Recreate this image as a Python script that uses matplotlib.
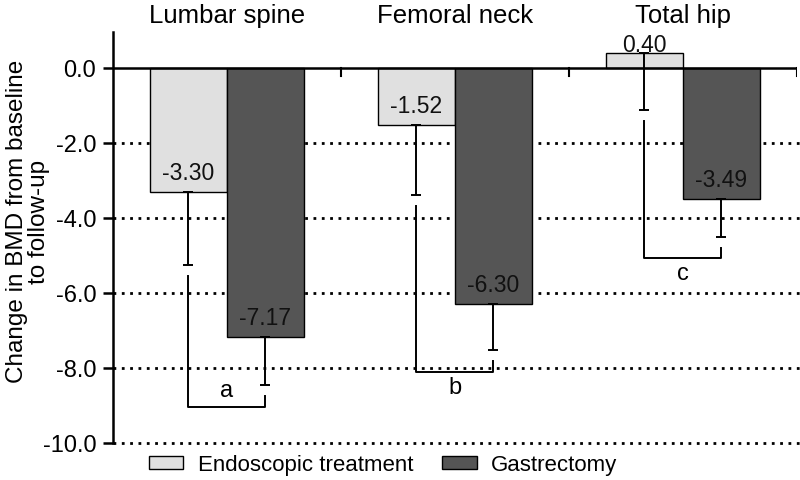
import matplotlib.pyplot as plt
import numpy as np

plt.rcParams['font.family'] = ['Liberation Sans', 'DejaVu Sans']
plt.rcParams['axes.unicode_minus'] = False

# data
sites = ['Lumbar spine', 'Femoral neck', 'Total hip']
endoscopic = [-3.30, -1.52, 0.40]
gastrectomy = [-7.17, -6.30, -3.49]
endoscopic_err = [1.95, 1.87, 1.52]
gastrectomy_err = [1.28, 1.22, 1.02]
sig_labels = ['a', 'b', 'c']
sig_levels = [-9.04, -8.10, -5.07]
series_names = ['Endoscopic treatment', 'Gastrectomy']

x = np.arange(len(sites))
w = 0.337

fig = plt.figure(figsize=(8, 4.8), dpi=100)
ax = fig.add_axes([0.141, 0.077, 0.855, 0.856])

ax.bar(x - w / 2, endoscopic, w, color='#e0e0e0', edgecolor='black', linewidth=1.0,
       label=series_names[0], zorder=3)
ax.bar(x + w / 2, gastrectomy, w, color='#555555', edgecolor='black', linewidth=1.0,
       label=series_names[1], zorder=3)

# one-sided error bars (downwards)
ax.errorbar(x - w / 2, endoscopic, yerr=[endoscopic_err, np.zeros(3)], fmt='none',
            ecolor='black', elinewidth=1.4, capsize=3.6, capthick=1.4, zorder=4)
ax.errorbar(x + w / 2, gastrectomy, yerr=[gastrectomy_err, np.zeros(3)], fmt='none',
            ecolor='black', elinewidth=1.4, capsize=3.6, capthick=1.4, zorder=4)

# value labels
for i in range(len(sites)):
    for xv, v in [(x[i] - w / 2, endoscopic[i]), (x[i] + w / 2, gastrectomy[i])]:
        yv = v + 0.2 if v > 0 else v + 0.5
        ax.text(xv, yv, f'{v:.2f}', ha='center', va='center', fontsize=16.5,
                color='#111111', zorder=5)

# significance brackets
gap = 0.3
for i in range(len(sites)):
    x1, x2 = x[i] - w / 2, x[i] + w / 2
    y1 = endoscopic[i] - endoscopic_err[i] - gap
    y2 = gastrectomy[i] - gastrectomy_err[i] - gap
    lvl = sig_levels[i]
    ax.plot([x1, x1, x2, x2], [y1, lvl, lvl, y2], color='black', lw=1.4, zorder=4)
    ly = lvl + 0.42 if i == 0 else lvl - 0.42
    ax.text((x1 + x2) / 2, ly, sig_labels[i], ha='center', va='center', fontsize=17)

# category titles on top
for i, s in enumerate(sites):
    ax.text(x[i], 1.4, s, ha='center', va='center', fontsize=18.5, clip_on=False)

# dotted grid and zero line
for g in [-2, -4, -6, -8, -10]:
    ax.plot([-0.5, 2.52], [g, g], color='black', lw=2, linestyle=(0, (1, 2)),
            zorder=1, clip_on=False)
ax.axhline(0, color='black', lw=1.8, zorder=5)
for b in [0.5, 1.5, 2.5]:
    ax.plot([b, b], [0, -0.2], color='black', lw=1.5, zorder=5)

ax.set_xlim(-0.5, 2.5)
ax.set_ylim(-10, 0.96)
ax.set_xticks([])
yt = [0, -2, -4, -6, -8, -10]
ax.set_yticks(yt)
ax.set_yticklabels([f'{t:.1f}' for t in yt], fontsize=17)
ax.tick_params(axis='y', length=7, width=1.8, direction='out', pad=5)
for sp in ['top', 'right', 'bottom']:
    ax.spines[sp].set_visible(False)
ax.spines['left'].set_linewidth(1.8)
fig.text(0.035, 0.538, 'Change in BMD from baseline\nto follow-up', rotation=90,
         ha='center', va='center', fontsize=17.5, linespacing=1.0)

fig.legend(loc='center', bbox_to_anchor=(0.479, 0.031), ncol=2, frameon=False,
           fontsize=16, handlelength=1.55, handleheight=0.55, columnspacing=1.3,
           handletextpad=0.65)

fig.savefig('out.png', dpi=100)
